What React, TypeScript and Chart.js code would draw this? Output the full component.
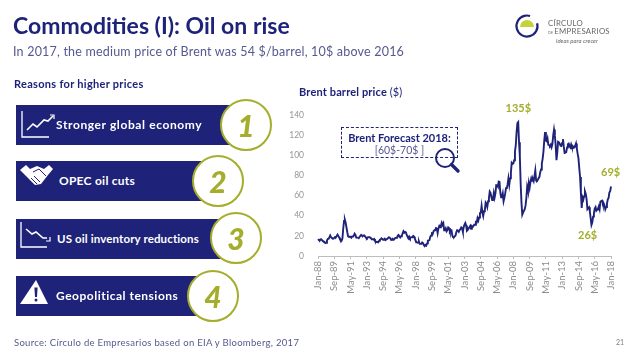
import React, { useEffect, useRef } from "react";
import { Chart, registerables } from "chart.js";

Chart.register(...registerables);

const NAVY = "#1e2379";
const OLIVE = "#a4ae2c";
const FONT = "Lato, sans-serif";

const monthNames = ["Jan","Feb","Mar","Apr","May","Jun","Jul","Aug","Sep","Oct","Nov","Dec"];
const firstYear = 88;

const y1988 = [16.8,16.0,15.0,16.5,16.6,15.6,14.8,14.6,13.9,12.8,13.0,15.2];
const y1989 = [17.0,17.0,18.6,20.3,18.6,17.9,17.8,17.3,18.0,18.9,18.8,19.8];
const y1990 = [21.2,19.8,18.4,16.6,16.4,15.2,17.3,27.2,34.9,36.0,33.0,28.3];
const y1991 = [23.6,19.5,19.1,19.2,19.2,18.2,19.3,19.5,20.2,22.2,21.0,18.3];
const y1992 = [18.2,18.1,17.6,18.9,19.9,21.0,20.2,19.7,20.3,20.3,19.3,18.1];
const y1993 = [17.5,18.5,18.7,18.6,18.5,17.6,16.8,16.8,16.3,16.9,15.2,13.7];
const y1994 = [14.2,13.9,13.6,15.0,16.0,16.5,17.6,16.9,16.0,16.5,17.2,15.9];
const y1995 = [16.6,17.0,17.0,18.6,18.4,17.3,15.9,16.2,16.7,16.1,17.0,17.9];
const y1996 = [18.0,18.2,20.2,20.8,19.1,18.4,19.6,20.2,22.6,24.6,23.2,24.0];
const y1997 = [23.5,20.9,19.2,17.6,19.2,17.6,18.5,18.6,18.6,19.9,19.2,17.1];
const y1998 = [15.2,14.1,13.2,13.4,14.4,12.0,12.0,12.0,13.4,12.7,11.0,9.8];
const y1999 = [11.0,10.3,12.5,15.3,15.3,15.9,19.1,20.3,22.5,22.0,24.6,25.5];
const y2000 = [25.5,27.8,27.5,22.8,27.6,29.8,28.5,30.2,33.0,30.9,32.5,25.5];
const y2001 = [25.6,27.5,24.5,25.7,28.4,27.7,24.5,25.7,25.6,20.5,18.7,18.6];
const y2002 = [19.5,20.4,23.7,25.7,25.4,24.1,25.7,26.7,28.4,27.5,24.0,28.7];
const y2003 = [31.2,32.8,30.3,25.0,25.8,27.5,28.4,29.8,27.0,29.6,28.8,29.9];
const y2004 = [31.2,30.9,33.8,33.4,37.6,35.2,38.2,42.7,43.2,49.8,43.1,39.6];
const y2005 = [44.5,45.6,53.1,51.9,48.7,54.3,57.6,64.1,62.8,58.5,55.5,56.7];
const y2006 = [62.5,58.0,62.1,70.4,70.2,68.9,73.9,73.6,62.8,58.3,58.9,62.2];
const y2007 = [54.3,57.8,62.1,67.4,67.5,71.3,77.2,70.8,77.1,82.8,92.5,91.4];
const y2008 = [92.0,95.0,103.5,110.0,123.0,132.0,133.0,113.0,99.0,72.0,53.0,41.0];
const y2009 = [43.0,43.0,46.5,50.0,57.5,68.6,64.9,72.5,67.7,73.2,77.0,74.7];
const y2010 = [76.4,74.3,79.3,84.9,75.0,74.7,75.6,77.1,78.4,83.0,85.9,91.8];
const y2011 = [96.5,103.7,114.6,123.0,114.5,113.8,116.7,110.4,110.1,109.3,110.6,107.9];
const y2012 = [111.0,119.7,125.5,119.8,110.3,95.2,102.6,113.4,113.0,111.5,109.5,109.2];
const y2013 = [112.3,116.0,108.5,102.3,102.6,103.1,107.7,111.0,111.6,109.1,107.8,110.8];
const y2014 = [108.1,108.9,107.5,107.8,109.5,111.8,106.8,101.6,97.1,87.4,78.4,62.3];
const y2015 = [47.8,58.1,55.9,59.5,64.1,61.5,56.6,46.5,47.6,48.4,44.3,37.7];
const y2016 = [30.8,33.2,39.1,42.3,47.1,48.5,45.1,46.1,47.0,49.3,46.4,54.1];
const y2017 = [54.6,55.0,51.6,52.3,50.3,46.4,48.5,51.7,56.1,57.5,62.9,64.4];
const y2018 = [69.0];

const brentPrice = [
  ...y1988, ...y1989, ...y1990, ...y1991, ...y1992, ...y1993, ...y1994, ...y1995,
  ...y1996, ...y1997, ...y1998, ...y1999, ...y2000, ...y2001, ...y2002, ...y2003,
  ...y2004, ...y2005, ...y2006, ...y2007, ...y2008, ...y2009, ...y2010, ...y2011,
  ...y2012, ...y2013, ...y2014, ...y2015, ...y2016, ...y2017, ...y2018,
];

const months = brentPrice.map((_, i) => {
  const yy = (firstYear + Math.floor(i / 12)) % 100;
  return `${monthNames[i % 12]}-${String(yy).padStart(2, "0")}`;
});
const tickEvery = 20;

const reasons = [
  { label: "Stronger global economy", n: "1", top: 105, w: 225, textX: 56, cx: 246, cy: 125, size: 12, ls: 0.6 },
  { label: "OPEC oil cuts", n: "2", top: 161, w: 195, textX: 59, cx: 218, cy: 181, size: 12, ls: 0.25 },
  { label: "US oil inventory reductions", n: "3", top: 219, w: 215, textX: 57, cx: 236, cy: 238, size: 11.5, ls: 0.13 },
  { label: "Geopolitical tensions", n: "4", top: 276, w: 190, textX: 56, cx: 213, cy: 296, size: 12, ls: 0.5 },
];

const abs = (left: number, top: number, extra: React.CSSProperties = {}): React.CSSProperties => ({
  position: "absolute", left, top, whiteSpace: "nowrap", fontFamily: FONT, lineHeight: 1, ...extra,
});

function Icon({ i }: { i: number }) {
  const s = { position: "absolute" as const, left: 0, top: 0 };
  return (
    <svg width={60} height={40} style={s} fill="none" stroke="#fff" strokeWidth={1.3}>
      {i === 0 && <>
        <path d="M6 6V32H33" />
        <path d="M11 25L17 19L21 22L28 15L32 16L37 11" strokeWidth={1.6} />
        <path d="M34 10L38 10L38 14" strokeWidth={1.2} />
      </>}
      {i === 1 && <>
        <path d="M4 9L10 4L14 8L21 5L28 8L33 4L37 8L32 14L25 23L19 24L12 17Z" fill="#fff" stroke="none" />
        <path d="M17 11L23 8L30 15M15 17L21 23M18 15L24 21" stroke={NAVY} strokeWidth={1} />
      </>}
      {i === 2 && <>
        <path d="M5 3V28H31" />
        <path d="M10 10L16 15L20 13L27 19L31 19" strokeWidth={1.6} />
        <path d="M34 18L34 22L30 22" strokeWidth={1.2} />
      </>}
      {i === 3 && <>
        <path d="M20 4L32 28H4Z" fill="#fff" stroke="none" />
        <path d="M18.4 11.5H21.6L21 21H19Z" fill={NAVY} stroke="none" />
        <circle cx={20} cy={24} r={1.5} fill={NAVY} stroke="none" />
      </>}
    </svg>
  );
}

export default function App() {
  const ref = useRef<HTMLCanvasElement>(null);
  useEffect(() => {
    document.body.style.margin = "0";
    const chart = new Chart(ref.current!, {
      type: "line",
      data: {
        labels: months,
        datasets: [{
          data: brentPrice,
          borderColor: NAVY,
          borderWidth: 1.9,
          pointRadius: 0,
          tension: 0,
        }],
      },
      options: {
        animation: false,
        responsive: false,
        layout: { padding: { top: 115, right: 27, left: 0, bottom: 0 } },
        plugins: { legend: { display: false }, tooltip: { enabled: false } },
        scales: {
          x: {
            type: "category",
            offset: false,
            grid: { display: true, drawOnChartArea: false, drawTicks: true, tickLength: 3, color: "#bdbdbd" },
            border: { color: "#bdbdbd" },
            afterBuildTicks: (scale: any) => {
              scale.ticks = scale.ticks.filter((t: any) => t.value % tickEvery === 0);
            },
            afterFit: (scale: any) => { scale.height = 103; },
            ticks: {
              autoSkip: false, maxRotation: 90, minRotation: 90, padding: 2,
              color: "#8c8c8c", font: { family: "Lato", size: 9.5 },
            },
          },
          y: {
            min: 0, max: 140,
            grid: { display: false },
            border: { display: false },
            afterFit: (scale: any) => { scale.width = 318; },
            ticks: { stepSize: 20, padding: 6, color: "#969696", font: { family: "Lato", size: 8.5 } },
          },
        },
      },
    });
    return () => chart.destroy();
  }, []);

  return (
    <div style={{ position: "fixed", left: 0, top: 0, width: 638, height: 359, background: "#fff", overflow: "hidden" }}>
      <canvas ref={ref} width={638} height={359} style={{ position: "absolute", left: 0, top: 0 }} />

      <div style={abs(13, 14, { fontSize: 23, fontWeight: 700, color: NAVY })}>Commodities (I): Oil on rise</div>
      <div style={abs(13, 46, { fontSize: 12.5, color: "#55598f", letterSpacing: 0.2 })}>
        In 2017, the medium price of Brent was 54 $/barrel, 10$ above 2016
      </div>
      <div style={abs(14, 78, { fontSize: 11, fontWeight: 700, color: NAVY, letterSpacing: 0.3 })}>Reasons for higher prices</div>
      <div style={abs(299, 86, { fontSize: 11, fontWeight: 700, color: NAVY, letterSpacing: 0.15 })}>
        Brent barrel price <span style={{ fontWeight: 400 }}>($)</span>
      </div>

      {reasons.map((r, i) => (
        <React.Fragment key={r.n}>
          <div style={{ position: "absolute", left: 16, top: r.top, width: r.w, height: 39.5, background: NAVY }}>
            <Icon i={i} />
          </div>
          <div style={abs(r.textX, r.top + 13.5, { fontSize: r.size, fontWeight: 700, color: "#fff", letterSpacing: r.ls })}>{r.label}</div>
          <div style={{
            position: "absolute", left: r.cx - 26, top: r.cy - 26, width: 52, height: 52, boxSizing: "border-box",
            borderRadius: "50%", background: "#fff", border: `2px solid ${OLIVE}`,
            display: "flex", alignItems: "center", justifyContent: "center",
            fontFamily: FONT, fontSize: 30, fontWeight: 900, fontStyle: "italic", color: OLIVE,
          }}>{r.n}</div>
        </React.Fragment>
      ))}

      <div style={{ position: "absolute", left: 341, top: 127, width: 117, height: 31, boxSizing: "border-box", border: `1px dashed ${NAVY}`, background: "#fff" }} />
      <div style={abs(341, 131.5, { width: 117, textAlign: "center", fontSize: 11, fontWeight: 700, color: NAVY })}>Brent Forecast 2018:</div>
      <div style={abs(341, 144.5, { width: 117, textAlign: "center", fontSize: 10.5, color: "#55598f" })}>[60$-70$ ]</div>
      <svg width={40} height={40} style={{ position: "absolute", left: 430, top: 143 }} fill="none">
        <circle cx={15} cy={15} r={9} stroke={NAVY} strokeWidth={2} fill="none" />
        <path d="M21.5 21.5L28 28" stroke={NAVY} strokeWidth={3.4} strokeLinecap="round" />
      </svg>

      <div style={abs(505.5, 101.5, { fontSize: 11, fontWeight: 700, color: OLIVE })}>135$</div>
      <div style={abs(601, 165.5, { fontSize: 11, fontWeight: 700, color: OLIVE })}>69$</div>
      <div style={abs(578, 228.5, { fontSize: 11, fontWeight: 700, color: OLIVE })}>26$</div>

      <div style={abs(14, 338, { fontSize: 9.5, color: "#55598f", letterSpacing: 0.3 })}>
        Source: Círculo de Empresarios based on EIA y Bloomberg, 2017
      </div>
      <div style={abs(616, 339, { fontSize: 7, color: "#808080" })}>21</div>

      <svg width={30} height={30} style={{ position: "absolute", left: 513, top: 11 }}>
        <circle cx={14} cy={15} r={10.5} fill="none" stroke={NAVY} strokeWidth={2.2} strokeDasharray="55 11" transform="rotate(-15 14 15)" />
        <path d="M7 16A7 7 0 0 1 21 16Z" fill="#c4d33a" />
      </svg>
      <div style={abs(548, 20, { fontSize: 7.8, color: "#666", letterSpacing: 0.25 })}>CÍRCULO</div>
      <div style={abs(548, 28, { fontSize: 7.8, color: "#666", letterSpacing: 0.25 })}>
        <span style={{ fontSize: 3.5 }}>DE </span>EMPRESARIOS
      </div>
      <div style={abs(556, 38, { fontSize: 6, fontStyle: "italic", color: "#666" })}>ideas para crecer</div>
    </div>
  );
}
